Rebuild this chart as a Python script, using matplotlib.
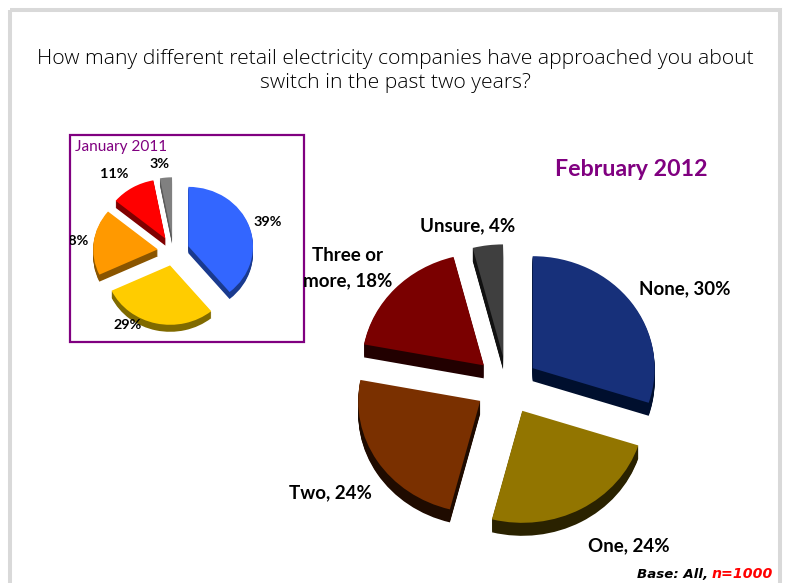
import matplotlib
matplotlib.use("Agg")
import matplotlib.pyplot as plt
from matplotlib.patches import Rectangle

W, H = 787, 583

TITLE = "How many different retail electricity companies have approached you about\nswitch in the past two years?"

# February 2012 survey
feb_names = ["None", "One", "Two", "Three or\nmore", "Unsure"]
feb_values = [30, 24, 24, 18, 4]
feb_top = ["#17307a", "#927500", "#7a3000", "#7a0000", "#3f3f3f"]
feb_side = ["#000f2e", "#2a2200", "#1f0b00", "#220000", "#111111"]

# January 2011 survey
jan_values = [39, 29, 18, 11, 3]
jan_top = ["#3366ff", "#ffcc00", "#ff9900", "#ff0000", "#808080"]
jan_side = ["#1a3a8e", "#806a00", "#8a5500", "#800000", "#5a5a5a"]

PURPLE = "#800080"
FRAME = "#d9d9d9"
LABEL_FONT = "Lato"
TITLE_FONT = "Open Sans"

fig = plt.figure(figsize=(W / 100, H / 100), dpi=100, facecolor="white")


def pixel_axes(z):
    ax = fig.add_axes([0, 0, 1, 1], zorder=z)
    ax.set_xlim(0, W)
    ax.set_ylim(H, 0)
    ax.axis("off")
    return ax


def tilted_pie(values, top, side, cx, cy, rx, ry, depth, gap, z):
    """Exploded pie seen from above: the rim is built from stacked copies."""
    ax = fig.add_axes([0, 0, 1, 1], zorder=z)
    explode = [gap] * len(values)
    for d in list(range(depth, 0, -1)) + [0]:
        ax.pie(values, explode=explode, startangle=90, counterclock=False,
               colors=top if d == 0 else side, center=(0, -d / ry), radius=1,
               wedgeprops=dict(linewidth=0))
    ax.set_aspect("auto")
    ax.set_xlim(-cx / rx, (W - cx) / rx)
    ax.set_ylim((cy - H) / ry, cy / ry)
    ax.axis("off")
    return ax


base = pixel_axes(0)
base.add_patch(Rectangle((10, 10), 770, 600, fill=False, ec=FRAME, lw=2.9))
base.text(395.5, 71, TITLE, ha="center", va="center", fontsize=15.2,
          family=TITLE_FONT, fontweight="light", color="black", linespacing=1.3)

tilted_pie(feb_values, feb_top, feb_side, 507, 385.3, 122, 112, 13, 0.26, 1)
tilted_pie(jan_values, jan_top, jan_side, 173.5, 251.2, 64.6, 59.4, 7, 0.245, 2)

over = pixel_axes(3)
bold = dict(ha="center", va="center", fontweight="bold", family=LABEL_FONT, color="black")

# February labels; the two-line label is cut off by the inset box edge
feb_pos = [(685, 289), (629, 546), (330, 493), (348, 268), (468, 226)]
for name, val, (x, y) in zip(feb_names, feb_values, feb_pos):
    t = over.text(x, y, f"{name}, {val}%", fontsize=13.5, linespacing=1.55, **bold)
    if "Three" in name:
        t.set_clip_path(Rectangle((304, 0), W, H, transform=over.transData))
        t.set_clip_on(True)

# January labels; the 18% label runs past the left edge of the box
jan_pos = [(268, 222), (128, 325), (74.5, 241), (114, 174), (160, 164)]
for val, (x, y) in zip(jan_values, jan_pos):
    t = over.text(x, y, f"{val}%", fontsize=10.4, **bold)
    if val == 18:
        t.set_clip_path(Rectangle((70, 0), W, H, transform=over.transData))
        t.set_clip_on(True)

over.text(631.5, 169.5, "February 2012", ha="center", va="center", fontsize=16.7,
          fontweight="bold", family=LABEL_FONT, color=PURPLE)
over.text(75, 147, "January 2011", ha="left", va="center", fontsize=11.1,
          family=LABEL_FONT, color=PURPLE)
over.add_patch(Rectangle((70, 134.5), 234, 207, fill=False, ec=PURPLE, lw=1.6))

over.text(708, 574, "Base: All,", ha="right", va="center", fontsize=9.6,
          fontweight="bold", style="italic", family="DejaVu Sans", color="black")
over.text(712, 574, "n=1000", ha="left", va="center", fontsize=10.2,
          fontweight="bold", style="italic", family="DejaVu Sans", color="#ff0000")

fig.savefig("out.png", dpi=100, facecolor="white")
